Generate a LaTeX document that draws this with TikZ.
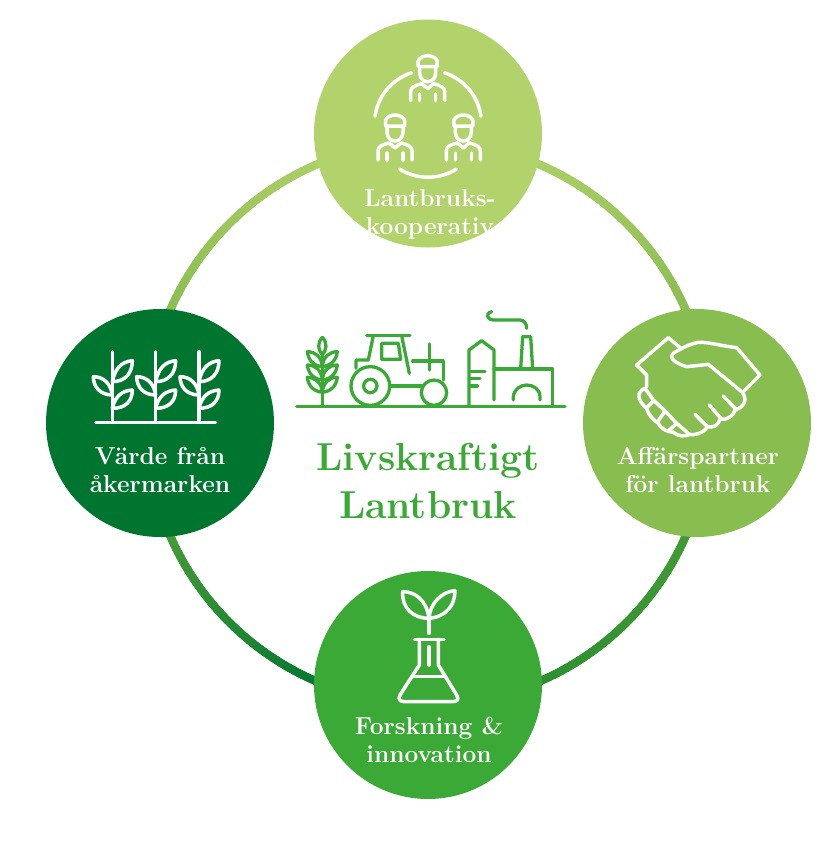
\documentclass[tikz,border=0pt]{standalone}
\usetikzlibrary{calc}
\usetikzlibrary{positioning}
\definecolor{lightgreen}{HTML}{B2D26B}
\definecolor{midgreen}{HTML}{88BD50}
\definecolor{brightgreen}{HTML}{3BA935}
\definecolor{darkgreen}{HTML}{00752F}
\tikzset{
  mycircle/.style={
    shape=circle,
    minimum size=228pt,
    inner sep=0pt,
  },
  mylabel/.style={
    text=white,
    align=center,
    font=\fontsize{24.5}{28}\selectfont\bfseries,
  },
  mytitle/.style={
    text=brightgreen,
    align=center,
    font=\fontsize{39}{48}\selectfont\bfseries,
  },
  myicon/.style={
    draw=white,
    line width=3.5pt,
    line cap=round,
    line join=round,
  },
  mygreenicon/.style={
    myicon,
    draw=brightgreen,
    line width=3.3pt,
  },
}
% part of the ring, colour running from #3 to #4
\newcommand{\ringarc}[4]{
  \foreach \a in {#1,...,#2} {
    \pgfmathsetmacro{\mixval}{100*(\a-#1)/(#2-#1)}
    \draw[line width=8pt, color=#4!\mixval!#3] (\a-0.7:281.5) -- (\a+1.7:281.5);
  }
}
% one farmer of the top circle, origin at the head
\newcommand{\farmer}[2]{
  \begin{scope}[shift={(#1,#2)}]
    \draw[myicon] (-9.5,11) -- (-9.5,5) .. controls (-8,2) and (-4,0) .. (0,0) .. controls (4,0) and (8,2) .. (9.5,5) -- (9.5,11) -- cycle;
    \draw[myicon] (-8,12) -- (-8,17) .. controls (-8,23) and (-4,26) .. (0,26) .. controls (4,26) and (8,23) .. (8,17) -- (8,12);
    \draw[myicon] (-17,45) -- (-17,36) .. controls (-17,32) and (-14,30) .. (-6,28) -- (0,33) -- (6,28) .. controls (14,30) and (17,32) .. (17,36) -- (17,45);
    \draw[myicon] (-8,45) -- (-8,38) (8,45) -- (8,38);
  \end{scope}
}
% one plant of the left circle, in steps of a third of a pixel
\newcommand{\plant}[1]{
  \begin{scope}[shift={(#1,0)}]
    \draw[myicon] (97,35) -- (97,245);
    \draw[myicon] (97,125) .. controls (105,85) and (125,65) .. (157,62) .. controls (157,100) and (135,125) .. cycle;
    \draw[myicon] (97,205) .. controls (105,170) and (125,152) .. (157,150) .. controls (157,185) and (135,205) .. cycle;
    \draw[myicon] (97,165) .. controls (92,130) and (70,110) .. (40,110) .. controls (40,140) and (60,165) .. cycle;
  \end{scope}
}
\newcommand{\wheatleaf}[2]{
  \draw[mygreenicon] (97,#1) .. controls (95,#1-30) and (75,#1-45) .. (#2,#1-45) .. controls (#2+3,#1-20) and (70,#1-3) .. cycle;
  \draw[mygreenicon] (97,#1) .. controls (99,#1-30) and (119,#1-45) .. (194-#2,#1-45) .. controls (191-#2,#1-20) and (124,#1-3) .. cycle;
}
\begin{document}
\begin{tikzpicture}[x=1pt,y=-1pt]
    \useasboundingbox (0,0) rectangle (833,844);

    \begin{scope}[shift={(428,423)}]
      \ringarc{200}{250}{midgreen}{lightgreen!90!midgreen}
      \ringarc{290}{340}{lightgreen!90!midgreen}{midgreen}
      \ringarc{20}{70}{midgreen!20!brightgreen!90!black}{darkgreen}
      \ringarc{110}{160}{darkgreen}{midgreen!30!brightgreen!90!black}
    \end{scope}

    \node[mycircle, fill=lightgreen] (top) at (428,133.5) {};
    \node[mycircle, fill=midgreen] (right) at (697,423) {};
    \node[mycircle, fill=brightgreen] (bottom) at (428,685) {};
    \node[mycircle, fill=darkgreen] (left) at (160,423) {};

    \node[mylabel] (toptext) at (430,214) {Lantbruks-\\kooperativ};
    \node[mylabel] (righttext) at (698,470) {Affärspartner\\för lantbruk};
    \node[mylabel] (bottomtext) at (429,740) {Forskning \&\\innovation};
    \node[mylabel] (lefttext) at (160,470) {Värde från\\åkermarken};
    \node[mytitle] (title) at (428,481) {Livskraftigt\\Lantbruk};

    % farmers
    \farmer{427.7}{55.7}
    \farmer{395}{115}
    \farmer{463.3}{115}
    \coordinate (hub) at (428,123.7);
    \draw[myicon] (hub) ++(188:53.5) arc[start angle=188, end angle=252, radius=53.5];
    \draw[myicon] (hub) ++(288:53.5) arc[start angle=288, end angle=352, radius=53.5];
    \draw[myicon] (hub) ++(58:53.5) arc[start angle=58, end angle=122, radius=53.5];

    % plants
    \begin{scope}[shift={(80,340)}, scale=1/3]
      \plant{0}
      \plant{130}
      \plant{260}
      \draw[myicon] (47,247) -- (407,247);
    \end{scope}

    % handshake
    \begin{scope}[shift={(620,325)}, scale=1/3]
      \draw[myicon] (80,185) -- (80,150) -- (50,120) -- (145,38) -- (185,72);
      \draw[myicon] (372,198) -- (420,150) -- (350,68) .. controls (300,62) and (260,50) .. (235,52) .. controls (205,58) and (180,72) .. (160,85) .. controls (145,98) and (165,115) .. (200,125) -- (265,118) -- (365,200) .. controls (385,222) and (372,248) .. (345,255);
      \draw[myicon] (345,255) .. controls (340,275) and (320,285) .. (300,283) .. controls (295,300) and (280,310) .. (262,305) .. controls (250,325) and (225,332) .. (205,328);
      \draw[myicon] (310,213) -- (350,255) (268,240) -- (305,283) (225,268) -- (262,305);
      \draw[myicon] (75,190) .. controls (50,200) and (50,225) .. (80,250) .. controls (85,270) and (100,285) .. (115,295) .. controls (125,315) and (145,320) .. (160,322) .. controls (175,335) and (195,335) .. (210,328);
      \draw[myicon] (75,190) -- (100,225) -- (135,258) -- (170,295) -- (205,325);
      \draw[myicon] (80,248) -- (102,226) (112,292) -- (135,258) (145,318) -- (170,295);
    \end{scope}

    % flask
    \begin{scope}[shift={(380,580)}, scale=1/3]
      \draw[myicon] (147,160) -- (147,100);
      \draw[myicon] (147,115) .. controls (140,60) and (105,35) .. (68,35) .. controls (65,85) and (100,115) .. cycle;
      \draw[myicon] (147,115) .. controls (150,70) and (185,35) .. (225,32) .. controls (225,75) and (200,110) .. cycle;
      \draw[myicon] (103,178) -- (192,178);
      \draw[myicon] (118,178) -- (118,255) -- (60,345) .. controls (52,360) and (62,365) .. (75,365) -- (215,365) .. controls (232,365) and (238,360) .. (230,345) -- (175,255) -- (175,178);
      \draw[myicon] (147,200) -- (147,255);
      \draw[myicon] (100,290) -- (195,290);
    \end{scope}

    % farm above the title
    \begin{scope}[shift={(290,300)}, scale=1/3]
      \draw[mygreenicon] (20,320) -- (825,320);
      % wheat
      \draw[mygreenicon] (97,160) -- (97,318);
      \draw[mygreenicon] (97,112) .. controls (80,130) and (85,150) .. (97,165) .. controls (109,150) and (114,130) .. cycle;
      \wheatleaf{200}{52}
      \wheatleaf{240}{52}
      \wheatleaf{277}{52}
      % tractor
      \draw[mygreenicon] (230,107) -- (360,107);
      \draw[mygreenicon] (198,205) -- (198,180) -- (235,180) -- (250,107);
      \draw[mygreenicon] (335,107) -- (358,220);
      \draw[mygreenicon] (275,130) -- (325,130) -- (332,178) -- (275,178) -- cycle;
      \draw[mygreenicon] (368,183) -- (460,183) -- (460,240);
      \draw[mygreenicon] (418,132) -- (418,210);
      \draw[mygreenicon] (241,258) circle[radius=58];
      \draw[mygreenicon] (241,258) circle[radius=20];
      \draw[mygreenicon] (432,278) circle[radius=38];
      \draw[mygreenicon] (300,258) -- (395,258);
      % silo and building
      \draw[mygreenicon] (537,318) -- (537,150) -- (575,122) -- (612,150) -- (612,300);
      \draw[mygreenicon] (540,215) -- (585,215) (540,235) -- (570,235) (540,258) -- (562,258);
      \draw[mygreenicon] (612,207) -- (788,207) -- (788,318);
      \draw[mygreenicon] (692,207) -- (698,110) -- (722,110) -- (728,207);
      \draw[mygreenicon] (670,300) -- (670,290) .. controls (672,268) and (692,255) .. (710,255) .. controls (730,255) and (750,268) .. (750,290) -- (750,300);
      \draw[mygreenicon] (710,85) .. controls (710,68) and (700,60) .. (690,60) -- (612,60) .. controls (590,60) and (585,40) .. (605,35);
    \end{scope}
\end{tikzpicture}
\end{document}
